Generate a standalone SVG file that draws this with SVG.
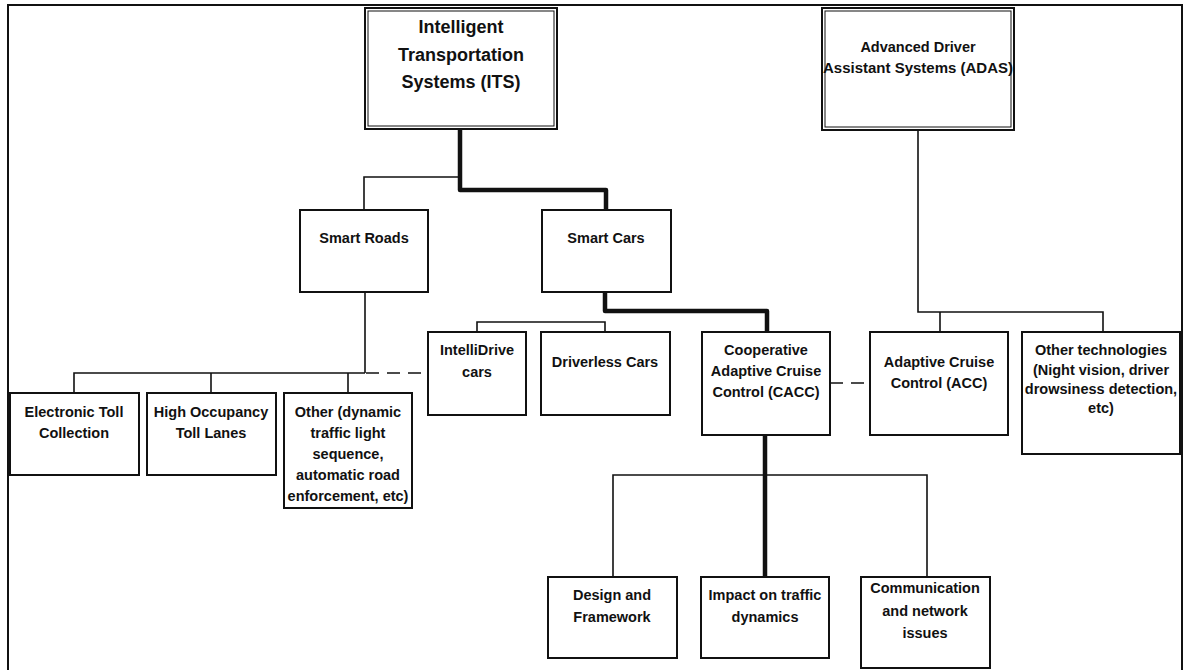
<svg xmlns="http://www.w3.org/2000/svg" width="1189" height="670" viewBox="0 0 1189 670">
<style>
.box{fill:#fff;stroke:#111;stroke-width:2}
.inner{fill:none;stroke:#111;stroke-width:1}
.t{font-family:"Liberation Sans",Arial,sans-serif;font-weight:bold;font-size:14.5px;fill:#111;text-anchor:middle}
.big{font-size:18px}
.thin{fill:none;stroke:#111;stroke-width:1.6}
.thick{fill:none;stroke:#111;stroke-width:4.5;stroke-linejoin:round}
.dash{fill:none;stroke:#111;stroke-width:1.6;stroke-dasharray:13 8}
</style>
<rect x="0" y="0" width="1189" height="670" fill="#fff"/>
<rect x="8" y="5" width="1174" height="675" fill="none" stroke="#111" stroke-width="2"/>
<g id="connectors">
<path class="thin" d="M460 177H364V210"/>
<path class="thick" d="M460 129V190H606V210"/>
<path class="thin" d="M365 292V373M74 393V373H365M211 373V393M348 373V393"/>
<path class="dash" d="M366 373H428"/>
<path class="thin" d="M477 332V322H605V332"/>
<path class="thick" d="M605 292V311H767V332"/>
<path class="dash" d="M830 383H870"/>
<path class="thin" d="M918 130V312H1103V332M940 312V332"/>
<path class="thin" d="M613 577V475H927V577"/>
<path class="thick" d="M765 435V577"/>
</g>
<g id="its">
<rect class="box" x="365" y="8" width="192" height="121"/>
<rect class="inner" x="368" y="11" width="186" height="115"/>
<text class="t big" x="461" y="33">Intelligent</text>
<text class="t big" x="461" y="61">Transportation</text>
<text class="t big" x="461" y="88">Systems (ITS)</text>
</g>
<g id="adas">
<rect class="box" x="822" y="8" width="192" height="122"/>
<rect class="inner" x="825" y="11" width="186" height="116"/>
<text class="t" x="918" y="52">Advanced Driver</text>
<text class="t" x="918" y="73" style="font-size:15px">Assistant Systems (ADAS)</text>
</g>
<g id="smart-roads">
<rect class="box" x="300" y="210" width="128" height="82"/>
<text class="t" x="364" y="243">Smart Roads</text>
</g>
<g id="smart-cars">
<rect class="box" x="542" y="210" width="129" height="82"/>
<text class="t" x="606" y="243">Smart Cars</text>
</g>
<g id="etc">
<rect class="box" x="10" y="393" width="129" height="82"/>
<text class="t" x="74" y="417">Electronic Toll</text>
<text class="t" x="74" y="438">Collection</text>
</g>
<g id="hotl">
<rect class="box" x="147" y="393" width="129" height="82"/>
<text class="t" x="211" y="417">High Occupancy</text>
<text class="t" x="211" y="438">Toll Lanes</text>
</g>
<g id="other-roads">
<rect class="box" x="284" y="393" width="128" height="115"/>
<text class="t" x="348" y="417">Other (dynamic</text>
<text class="t" x="348" y="438">traffic light</text>
<text class="t" x="348" y="459">sequence,</text>
<text class="t" x="348" y="480">automatic road</text>
<text class="t" x="348" y="501">enforcement, etc)</text>
</g>
<g id="intellidrive">
<rect class="box" x="428" y="332" width="98" height="83"/>
<text class="t" x="477" y="355">IntelliDrive</text>
<text class="t" x="477" y="377">cars</text>
</g>
<g id="driverless">
<rect class="box" x="541" y="332" width="129" height="83"/>
<text class="t" x="605" y="367">Driverless Cars</text>
</g>
<g id="cacc">
<rect class="box" x="702" y="332" width="128" height="103"/>
<text class="t" x="766" y="355">Cooperative</text>
<text class="t" x="766" y="376">Adaptive Cruise</text>
<text class="t" x="766" y="397">Control (CACC)</text>
</g>
<g id="acc">
<rect class="box" x="870" y="332" width="138" height="103"/>
<text class="t" x="939" y="367">Adaptive Cruise</text>
<text class="t" x="939" y="388">Control (ACC)</text>
</g>
<g id="other-tech">
<rect class="box" x="1022" y="332" width="158" height="122"/>
<text class="t" x="1101" y="355">Other technologies</text>
<text class="t" x="1101" y="375">(Night vision, driver</text>
<text class="t" x="1101" y="394">drowsiness detection,</text>
<text class="t" x="1101" y="413">etc)</text>
</g>
<g id="design">
<rect class="box" x="548" y="577" width="129" height="81"/>
<text class="t" x="612" y="600">Design and</text>
<text class="t" x="612" y="622">Framework</text>
</g>
<g id="impact">
<rect class="box" x="701" y="577" width="128" height="81"/>
<text class="t" x="765" y="600">Impact on traffic</text>
<text class="t" x="765" y="622">dynamics</text>
</g>
<g id="communication">
<rect class="box" x="861" y="577" width="129" height="91"/>
<text class="t" x="925" y="593">Communication</text>
<text class="t" x="925" y="616">and network</text>
<text class="t" x="925" y="638">issues</text>
</g>
</svg>
